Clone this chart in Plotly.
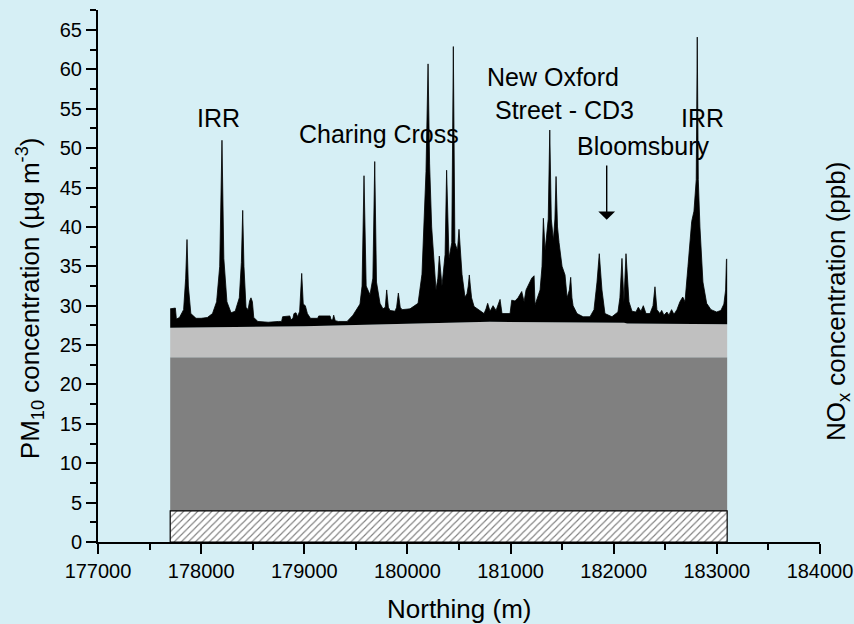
import plotly.graph_objects as go

# Along-route northing (m) and total PM10 concentration (ug m-3)
northing = [
    177700, 177750, 177760, 177790, 177830, 177850, 177863, 177876, 177900, 177950,
    178000, 178060, 178110, 178150, 178180, 178202, 178220, 178250, 178290, 178330,
    178370, 178390, 178403, 178415, 178435, 178455, 178470, 178483, 178497, 178510,
    178550, 178650, 178750, 178780, 178790, 178860, 178870, 178890, 178900, 178920,
    178935, 178955, 178975, 178990, 179010, 179030, 179060, 179130, 179140, 179250,
    179260, 179275, 179285, 179300, 179330, 179415, 179472, 179540, 179560, 179579,
    179600, 179637, 179665, 179683, 179700, 179734, 179763, 179785, 179799, 179815,
    179831, 179880, 179895, 179912, 179930, 179948, 180025, 180103, 180141, 180160,
    180180, 180200, 180215, 180235, 180257, 180277, 180295, 180309, 180335, 180365,
    180380, 180403, 180430, 180445, 180460, 180471, 180485, 180500, 180529, 180558,
    180577, 180590, 180600, 180610, 180622, 180646, 180684, 180743, 180762, 180778,
    180801, 180830, 180859, 180898, 180917, 180995, 181011, 181043, 181072, 181108,
    181131, 181150, 181205, 181228, 181237, 181286, 181305, 181318, 181335, 181344,
    181365, 181380, 181395, 181415, 181430, 181441, 181455, 181470, 181499, 181528,
    181548, 181570, 181583, 181595, 181606, 181644, 181703, 181770, 181809, 181838,
    181860, 181886, 181915, 181983, 182041, 182060, 182080, 182099, 182119, 182148,
    182177, 182215, 182238, 182264, 182287, 182313, 182352, 182381, 182400, 182419,
    182448, 182465, 182487, 182516, 182535, 182561, 182584, 182613, 182642, 182669,
    182691, 182720, 182756, 182778, 182800, 182810, 182820, 182836, 182865, 182901,
    182943, 182998, 183039, 183068, 183085, 183093, 183100,
]
pm10_total = [
    29.6, 29.7, 28.3, 28.5, 29.5, 33.5, 38.4, 32.5, 29.0, 28.4,
    28.4, 28.5, 29.0, 30.5, 35.0, 51.0, 36.0, 30.5, 29.1, 29.3,
    31.0, 35.5, 42.1, 35.0, 29.8, 29.5, 30.6, 31.0, 30.5, 28.5,
    28.0, 27.9, 28.0, 28.0, 28.6, 28.7, 28.2, 28.4, 29.0, 29.1,
    28.6, 29.3, 34.1, 30.2, 30.0, 29.0, 28.4, 28.4, 28.7, 28.7,
    28.2, 28.2, 28.8, 28.1, 28.0, 28.0, 28.8, 30.2, 32.5, 46.5,
    32.5, 31.4, 33.5, 48.3, 33.0, 30.3, 29.6, 29.8, 32.0, 29.8,
    29.4, 29.3, 29.8, 31.6, 29.8, 29.5, 29.6, 30.3, 34.0, 40.0,
    47.0, 60.7, 48.0, 40.0, 35.0, 32.0, 33.5, 36.3, 32.5, 36.5,
    47.2, 36.0, 38.0, 62.9, 38.0, 37.5, 37.0, 39.7, 34.0, 31.1,
    31.5, 32.5, 33.9, 32.5, 31.0, 29.9, 29.5, 29.0, 29.6, 30.3,
    29.3, 30.0, 29.4, 30.8, 29.0, 29.0, 30.7, 30.6, 31.0, 31.8,
    30.5, 32.0, 33.5, 33.8, 30.1, 32.0, 35.0, 41.1, 37.0, 38.0,
    41.0, 52.3, 41.0, 38.3, 41.0, 46.4, 40.0, 38.0, 35.0, 33.9,
    31.0, 32.0, 33.6, 31.0, 30.0, 29.0, 28.6, 28.6, 29.5, 33.0,
    36.6, 32.0, 29.0, 28.6, 29.2, 31.0, 36.0, 30.5, 36.6, 30.5,
    29.3, 29.2, 29.8, 29.3, 30.0, 29.0, 29.0, 30.0, 32.4, 29.5,
    29.0, 29.4, 28.8, 29.2, 28.8, 29.5, 28.9, 29.5, 30.5, 31.1,
    30.5, 35.0, 40.7, 42.0, 46.0, 64.1, 46.0, 40.0, 33.0, 30.3,
    29.5, 29.2, 29.4, 30.2, 32.0, 35.9, 35.9,
]

# Background contribution layers (ug m-3)
route_ends = [177700, 183100]
regional_primary_top = [3.95, 3.95]
regional_secondary_top = [23.45, 23.45]
urban_bg_northing = [177700, 178300, 179000, 180300, 180800, 182100, 182130, 183100]
urban_bg_top = [27.2, 27.3, 27.4, 27.8, 27.95, 27.85, 27.75, 27.65]

# Site labels: (text, northing, concentration)
site_labels = [
    ("IRR", 178165, 53.8),
    ("Charing Cross", 179725, 51.8),
    ("New Oxford", 181410, 59.0),
    ("Street - CD3", 181520, 54.8),
    ("IRR", 182865, 53.8),
    ("Bloomsbury", 182285, 50.3),
]
arrow_northing = 181932
arrow_tip, arrow_tail = 40.9, 48.0

BG = "#d6eff5"
FONT = "Liberation Sans, Arial, sans-serif"

fig = go.Figure()

# invisible base at the top of the hatched layer
fig.add_trace(go.Scatter(x=route_ends, y=regional_primary_top, mode="lines",
                         line=dict(width=0, color="rgba(0,0,0,0)"),
                         hoverinfo="skip", showlegend=False))
fig.add_trace(go.Scatter(x=route_ends, y=regional_secondary_top, mode="lines",
                         line=dict(width=0, color="#808080"), fill="tonexty",
                         fillcolor="#808080", showlegend=False))
fig.add_trace(go.Scatter(x=urban_bg_northing, y=urban_bg_top, mode="lines",
                         line=dict(width=0, color="#c0c0c0"), fill="tonexty",
                         fillcolor="#c0c0c0", showlegend=False))
fig.add_trace(go.Scatter(x=northing, y=pm10_total, mode="lines",
                         line=dict(width=0.8, color="black"), fill="tonexty",
                         fillcolor="black", showlegend=False))

# hatched regional primary layer with outline
hx = [route_ends[0], route_ends[0], route_ends[1], route_ends[1], route_ends[0]]
hy = [0, regional_primary_top[0], regional_primary_top[1], 0, 0]
fig.add_trace(go.Scatter(x=hx, y=hy, mode="lines", fill="toself",
                         fillcolor="white",
                         fillpattern=dict(shape="/", fgcolor="black", bgcolor="white",
                                          size=5, solidity=0.22),
                         line=dict(width=1.2, color="black"), showlegend=False))

annotations = []
for text, xv, yv in site_labels:
    annotations.append(dict(x=xv, y=yv, xref="x", yref="y", text=text,
                            xanchor="center", yanchor="middle", showarrow=False,
                            font=dict(size=25, color="black", family=FONT)))
annotations.append(dict(x=arrow_northing, y=arrow_tip, ax=arrow_northing, ay=arrow_tail,
                        xref="x", yref="y", axref="x", ayref="y", text="",
                        showarrow=True, arrowhead=1, arrowsize=2.0, arrowwidth=1.4,
                        arrowcolor="black"))
annotations.append(dict(x=-0.094, y=0.4586, xref="paper", yref="paper",
                        xanchor="center", yanchor="middle",
                        text="PM<sub>10</sub> concentration (µg m<sup>-3</sup>)",
                        textangle=-90, showarrow=False,
                        font=dict(size=26, color="black", family=FONT)))
annotations.append(dict(x=1.0235, y=0.453, xref="paper", yref="paper",
                        xanchor="center", yanchor="middle",
                        text="NO<sub>x</sub> concentration (ppb)",
                        textangle=-90, showarrow=False,
                        font=dict(size=26, color="black", family=FONT)))
annotations.append(dict(x=0.5, y=-0.126, xref="paper", yref="paper",
                        xanchor="center", yanchor="middle",
                        text="Northing (m)", showarrow=False,
                        font=dict(size=26, color="black", family=FONT)))

fig.update_layout(
    width=854, height=624,
    margin=dict(l=98, r=34, t=10, b=82, autoexpand=False),
    paper_bgcolor=BG, plot_bgcolor=BG,
    font=dict(family=FONT, color="black"),
    annotations=annotations,
    showlegend=False,
)
fig.update_xaxes(range=[177000, 184000], tick0=177000, dtick=1000, tickformat="d",
                 automargin=False,
                 showgrid=False, zeroline=False, showline=True, linecolor="black",
                 linewidth=2, ticks="outside", ticklen=10, tickwidth=2, tickcolor="black",
                 tickfont=dict(size=20, family=FONT, color="black"),
                 minor=dict(dtick=500, tick0=177000, ticks="outside", ticklen=6,
                            tickwidth=2, tickcolor="black", showgrid=False))
fig.update_yaxes(range=[0, 67.54], tick0=0, dtick=5, automargin=False,
                 showgrid=False, zeroline=False, showline=True, linecolor="black",
                 linewidth=2, ticks="outside", ticklen=10, tickwidth=2, tickcolor="black",
                 tickfont=dict(size=20, family=FONT, color="black"),
                 minor=dict(dtick=2.5, tick0=0, ticks="outside", ticklen=6,
                            tickwidth=2, tickcolor="black", showgrid=False))

fig.write_html("out.html")
